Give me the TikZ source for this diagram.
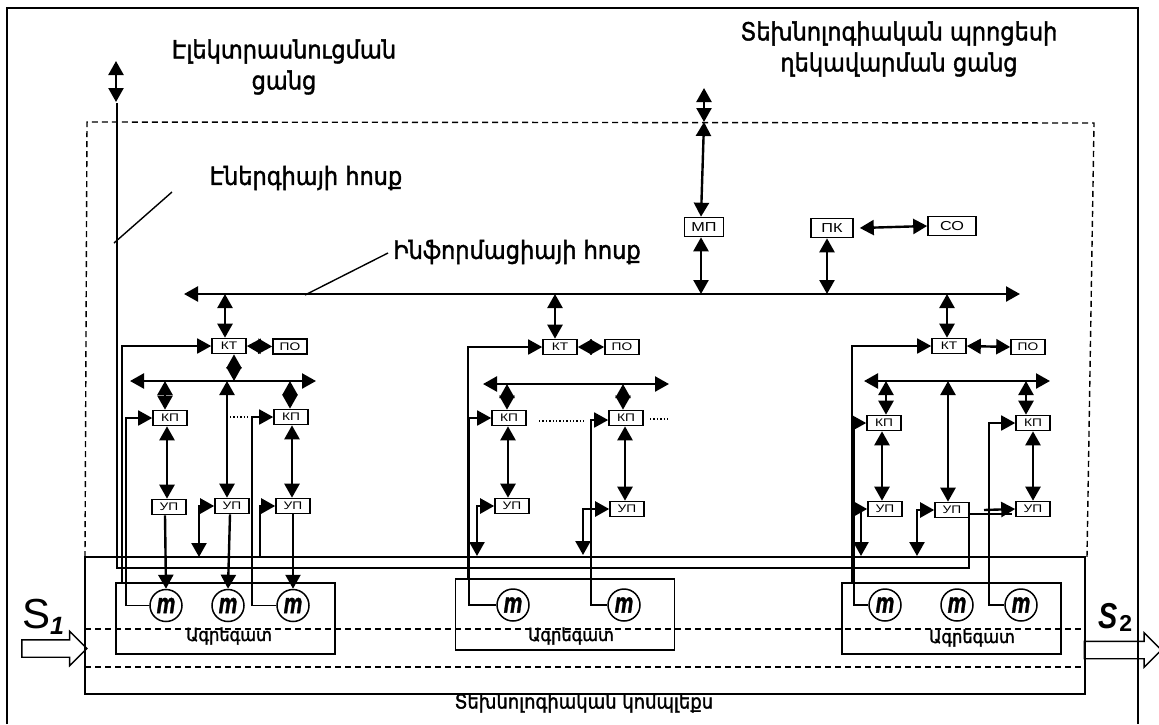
\documentclass[tikz,border=0pt]{standalone}
\usepackage{fontspec}
\usepackage{xcolor}
\usepackage{tikz}
\usetikzlibrary{arrows.meta,shapes.arrows}
\setmainfont{Liberation Sans}
\newfontfamily\armfont[FakeBold=1.6]{DejaVu Sans Condensed}
\newfontfamily\boxfont[FakeStretch=1.25]{Liberation Sans}
\newfontfamily\motorfont[BoldItalicFeatures={FakeBold=1.5}]{Liberation Sans}

\begin{document}
\begin{tikzpicture}[
    x=1pt, y=-1pt,
    >={Triangle[length=14pt,width=15pt]},
    box/.style={draw, rectangle, line width=1.6pt, minimum width=34pt, minimum height=15pt, inner sep=0pt, font=\boxfont\fontsize{11}{12}\selectfont},
    bigbox/.style={box, minimum height=19pt, font=\boxfont\fontsize{13}{14}\selectfont},
    motor/.style={draw, circle, line width=1.5pt, minimum size=32pt, inner sep=0pt, font=\motorfont\bfseries\itshape\fontsize{22}{22}\selectfont},
    unit/.style={draw, rectangle, line width=1.6pt, minimum width=219pt, minimum height=71pt},
    label/.style={align=center, inner sep=0pt, font=\armfont\fontsize{25}{31}\selectfont},
    small/.style={label, font=\armfont\fontsize{18}{20}\selectfont},
    flow/.style={draw, single arrow, line width=1.4pt, inner xsep=0pt, inner ysep=8pt, single arrow head extend=8.5pt, single arrow head indent=0pt},
    line/.style={draw, line width=2.4pt},
    wire/.style={draw, line width=1.8pt},
    guide/.style={draw, line width=1.4pt},
    zone/.style={draw, line width=1.4pt, dash pattern=on 6pt off 4pt},
    gap/.style={draw, line width=1.4pt, dotted}
]
    \useasboundingbox (0,0) rectangle (1159,724);

    % Frames
    \coordinate (fa) at (7,724);
    \coordinate (fb) at (7,8);
    \coordinate (fc) at (1138,8);
    \coordinate (fd) at (1138,724);
    \draw[wire] (fa) -- (fb) -- (fc) -- (fd);
    \coordinate (za) at (85,557);
    \coordinate (zb) at (87,122);
    \coordinate (zc) at (1094,123);
    \coordinate (zd) at (1087,557);
    \draw[zone] (za) -- (zb) -- (zc) -- (zd);
    \node[draw, rectangle, line width=1.6pt, minimum width=1000pt, minimum height=137pt] (complex) at (585,625.5) {};
    \coordinate (da) at (85,629);
    \coordinate (db) at (1085,629);
    \coordinate (dc) at (85,667);
    \coordinate (dd) at (1085,667);
    \draw[zone] (da) -- (db);
    \draw[zone] (dc) -- (dd);

    % Texts
    \node[label] (tpower) at (284,67) {Էլեկտրասնուցման\\ցանց};
    \node[label] (tcontrol) at (899,49) {Տեխնոլոգիական պրոցեսի\\ղեկավարման ցանց};
    \node[label] (tenergy) at (306,178) {Էներգիայի հոսք};
    \node[label] (tinfo) at (517,252) {Ինֆորմացիայի հոսք};
    \node[small, font=\armfont\fontsize{20}{22}\selectfont] (tcomplex) at (584,703) {Տեխնոլոգիական կոմպլեքս};

    % Units
    \node[unit] (a1) at (225.5,618.5) {};
    \node[unit] (a2) at (565,614.5) {};
    \node[unit] (a3) at (951.5,618.5) {};
    \node[small] (ta1) at (229,636) {Ագրեգատ};
    \node[small] (ta2) at (571,636) {Ագրեգատ};
    \node[small] (ta3) at (972,638) {Ագրեգատ};

    % Motors
    \node[motor] (m11) at (166,605.5) {\scalebox{.95}[1.3]{m}};
    \node[motor] (m12) at (228,605.5) {\scalebox{.95}[1.3]{m}};
    \node[motor] (m13) at (293,605.5) {\scalebox{.95}[1.3]{m}};
    \node[motor] (m21) at (513,605) {\scalebox{.95}[1.3]{m}};
    \node[motor] (m22) at (624,605) {\scalebox{.95}[1.3]{m}};
    \node[motor] (m31) at (885,605) {\scalebox{.95}[1.3]{m}};
    \node[motor] (m32) at (957,605) {\scalebox{.95}[1.3]{m}};
    \node[motor] (m33) at (1021,605) {\scalebox{.95}[1.3]{m}};

    % Top boxes
    \node[bigbox, minimum width=39pt] (mp) at (704,227) {МП};
    \node[bigbox, minimum width=42pt] (pk) at (832,228) {ПК};
    \node[bigbox, minimum width=48pt] (so) at (952,226) {СО};

    % First group
    \node[box] (kt1) at (229,346) {КТ};
    \node[box] (po1) at (290,346.5) {ПО};
    \node[box] (kp11) at (170,418) {КП};
    \node[box] (kp12) at (291,417) {КП};
    \node[box] (up11) at (169,507) {УП};
    \node[box] (up12) at (232,506) {УП};
    \node[box] (up13) at (293,506) {УП};

    % Second group
    \node[box] (kt2) at (560,347) {КТ};
    \node[box] (po2) at (622,347) {ПО};
    \node[box] (kp21) at (509,418) {КП};
    \node[box] (kp22) at (626,418) {КП};
    \node[box] (up21) at (512,506) {УП};
    \node[box] (up22) at (627,509) {УП};

    % Third group
    \node[box] (kt3) at (949,346) {КТ};
    \node[box] (po3) at (1028,347) {ПО};
    \node[box] (kp31) at (884,423) {КП};
    \node[box] (kp32) at (1033,423) {КП};
    \node[box] (up31) at (885,509) {УП};
    \node[box] (up32) at (952,510) {УП};
    \node[box] (up33) at (1033,509) {УП};

    % Buses
    \coordinate (busl) at (184,294);
    \coordinate (busr) at (1020,294);
    \coordinate (bus1l) at (130,381);
    \coordinate (bus1r) at (316,381);
    \coordinate (bus2l) at (483,384);
    \coordinate (bus2r) at (669,384);
    \coordinate (bus3l) at (864,381);
    \coordinate (bus3r) at (1050,381);
    \draw[line, <->] (busl) -- (busr);
    \draw[line, <->] (bus1l) -- (bus1r);
    \draw[line, <->] (bus2l) -- (bus2r);
    \draw[line, <->] (bus3l) -- (bus3r);

    % Power network
    \coordinate (pa) at (116,61);
    \coordinate (pb) at (116,102);
    \coordinate (en0) at (117,103);
    \coordinate (en1) at (969,568);
    \coordinate (en2) at (969,514);
    \coordinate (en3) at (1012,514);
    \draw[line, <->] (pa) -- (pb);
    \draw[wire] (en0) |- (en1) -- (en2) -- (en3);
    \coordinate (ga) at (114,243);
    \coordinate (gb) at (172,192);
    \coordinate (gc) at (305,295);
    \coordinate (gd) at (388,253);
    \draw[guide] (ga) -- (gb);
    \draw[guide] (gc) -- (gd);

    % Top connections
    \coordinate (ca) at (704,88);
    \coordinate (cb) at (704,122);
    \coordinate (cc) at (704,122);
    \draw[line, <->] (ca) -- (cb);
    \draw[line, <->] (cc) -- ([xshift=-3pt]mp.north);
    \draw[line, <->] ([xshift=-3pt]mp.south) -- ([xshift=-3pt]mp.south |- busl);
    \draw[line, <->] ([xshift=-5pt]pk.south) -- ([xshift=-5pt]pk.south |- busl);
    \draw[line, <->] ([xshift=6pt]pk.east) -- (so.west);

    % First group connections
    \draw[line, <->] ([xshift=-4pt]kt1.north |- busl) -- ([xshift=-4pt]kt1.north);
    \draw[line, <->] (kt1.east) -- (po1.west);
    \draw[line, <->] ([xshift=5pt]kt1.south) -- ([xshift=5pt]kt1.south |- bus1l);
    \draw[line, <->] ([xshift=-5pt]kp11.north |- bus1l) -- ([xshift=-5pt]kp11.north);
    \draw[line, <->] ([xshift=-1pt]kp12.north |- bus1l) -- ([xshift=-1pt]kp12.north);
    \draw[line, <->] ([xshift=-5pt]up12.north |- bus1l) -- ([xshift=-5pt]up12.north);
    \draw[line, <->] ([xshift=-3pt]kp11.south) -- ([xshift=-2pt]up11.north);
    \draw[line, <->] ([xshift=1pt]kp12.south) -- ([xshift=-1pt]up13.north);
    \draw[line, ->] ([xshift=-4pt]up11.south) -- (m11.north);
    \draw[line, ->] ([xshift=-2pt]up12.south) -- (m12.north);
    \draw[line, ->] (up13.south) -- (m13.north);
    \coordinate (f10) at (122,583);
    \coordinate (f12) at (199,557);
    \coordinate (f13) at (260,557);
    \draw[wire, ->] (f10) |- (kt1.west);
    \draw[wire, ->] (m11.west) -- ++(-23,0) |- (kp11.west);
    \draw[wire, ->] (m13.west) -- ++(-24,0) |- (kp12.west);
    \draw[line, <->] (f12) |- (up12.west);
    \draw[line, ->] (f13) |- (up13.west);
    \coordinate (d1a) at (230,417);
    \coordinate (d1b) at (250,417);
    \draw[gap] (d1a) -- (d1b);

    % Second group connections
    \draw[line, <->] ([xshift=-5pt]kt2.north |- busl) -- ([xshift=-5pt]kt2.north);
    \draw[line, <->] (kt2.east) -- (po2.west);
    \draw[line, <->] ([xshift=-2pt]kp21.north |- bus2l) -- ([xshift=-2pt]kp21.north);
    \draw[line, <->] ([xshift=-3pt]kp22.north |- bus2l) -- ([xshift=-3pt]kp22.north);
    \draw[line, <->] ([xshift=-1pt]kp21.south) -- ([xshift=-4pt]up21.north);
    \draw[line, <->] ([xshift=-1pt]kp22.south) -- ([xshift=-2pt]up22.north);
    \coordinate (f20) at (468,578);
    \coordinate (f21) at (477,556);
    \coordinate (f22) at (583,555);
    \draw[wire, ->] (f20) |- (kt2.west);
    \draw[wire, ->] (m21.west) -- ++(-27,0) |- (kp21.west);
    \draw[wire, ->] (m22.west) -- ++(-16,0) |- ([yshift=-2pt]kp22.west);
    \draw[line, <->] (f21) |- (up21.west);
    \draw[line, <->] (f22) |- (up22.west);
    \coordinate (d2a) at (539,421);
    \coordinate (d2b) at (584,421);
    \coordinate (d2c) at (650,419);
    \coordinate (d2d) at (669,419);
    \draw[gap] (d2a) -- (d2b);
    \draw[gap] (d2c) -- (d2d);

    % Third group connections
    \draw[line, <->] ([xshift=-2pt]kt3.north |- busl) -- ([xshift=-2pt]kt3.north);
    \draw[line, <->] (kt3.east) -- (po3.west);
    \draw[line, <->] ([xshift=2pt]kp31.north |- bus3l) -- ([xshift=2pt]kp31.north);
    \draw[line, <->] ([xshift=-7pt]kp32.north |- bus3l) -- ([xshift=-7pt]kp32.north);
    \draw[line, <->] ([xshift=-4pt]up32.north |- bus3l) -- ([xshift=-4pt]up32.north);
    \draw[line, <->] ([xshift=-2pt]kp31.south) -- ([xshift=-3pt]up31.north);
    \draw[line, <->] (kp32.south) -- (up33.north);
    \coordinate (f30) at (852,583);
    \coordinate (f31) at (861,556);
    \coordinate (f32) at (917,556);
    \coordinate (f33) at (984,510);
    \draw[wire, ->] (f30) |- (kt3.west);
    \draw[wire, ->] (m31.west) -- ++(-14,0) |- (kp31.west);
    \draw[wire, ->] (m33.west) -- ++(-15,0) |- (kp32.west);
    \draw[line, <->] (f31) |- (up31.west);
    \draw[line, <->] (f32) |- (up32.west);
    \draw[line, ->] (f33) -- (up33.west);

    % Input and output
    \node[flow, minimum height=65pt] (s1) at (50,648.5) {};
    \node[flow, minimum height=77pt] (s2) at (1118.5,650) {};
    \node[inner sep=0pt, anchor=base west, font=\fontsize{42}{42}\selectfont] (ts1) at (22,628) {S\raisebox{-6pt}{\bfseries\itshape\fontsize{25}{25}\selectfont 1}};
    \node[inner sep=0pt, anchor=base west, font=\bfseries\itshape\fontsize{36}{36}\selectfont] (ts2) at (1098,628) {\scalebox{.8}[1]{S}\kern2pt\raisebox{-3pt}{\upshape\fontsize{23}{23}\selectfont 2}};
\end{tikzpicture}
\end{document}
